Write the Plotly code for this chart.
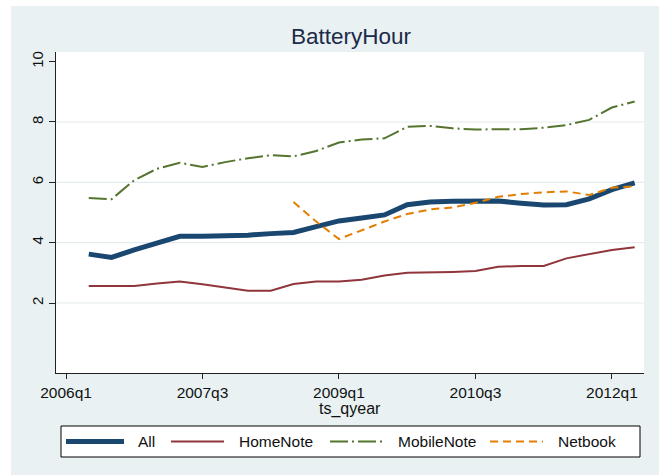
import plotly.graph_objects as go

# ---------------- data ----------------
QUARTERS = ["2006q2", "2006q3", "2006q4", "2007q1", "2007q2", "2007q3", "2007q4",
            "2008q1", "2008q2", "2008q3", "2008q4", "2009q1", "2009q2", "2009q3",
            "2009q4", "2010q1", "2010q2", "2010q3", "2010q4", "2011q1", "2011q2",
            "2011q3", "2011q4", "2012q1", "2012q2"]
ALL = [3.62, 3.51, 3.76, 4.00, 4.21, 4.21, 4.22, 4.25, 4.30, 4.34, 4.53, 4.72, 4.82,
       4.92, 5.26, 5.35, 5.37, 5.39, 5.38, 5.31, 5.25, 5.26, 5.45, 5.76, 5.98]
HOMENOTE = [2.56, 2.56, 2.56, 2.65, 2.71, 2.62, 2.52, 2.41, 2.41, 2.63, 2.71, 2.71, 2.77,
            2.91, 3.00, 3.01, 3.03, 3.06, 3.20, 3.23, 3.23, 3.48, 3.63, 3.76, 3.85]
MOBILENOTE = [5.48, 5.44, 6.07, 6.45, 6.65, 6.51, 6.67, 6.80, 6.90, 6.86, 7.04, 7.32, 7.42,
              7.46, 7.84, 7.87, 7.79, 7.75, 7.76, 7.76, 7.81, 7.90, 8.07, 8.48, 8.68]
NETBOOK = [None, None, None, None, None, None, None, None, None, 5.35, 4.70, 4.12, 4.40,
           4.70, 4.95, 5.10, 5.17, 5.32, 5.52, 5.61, 5.67, 5.70, 5.58, 5.82, 5.87]
SERIES_NAMES = ["All", "HomeNote", "MobileNote", "Netbook"]
X_TICK_LABELS = ["2006q1", "2007q3", "2009q1", "2010q3", "2012q1"]
Y_TICKS = [2, 4, 6, 8, 10]
Y_GRID = [2, 4, 6, 8]
TITLE = "BatteryHour"
X_TITLE = "ts_qyear"


def qindex(label):
    y, q = label.split("q")
    return (int(y) - 2006) * 4 + int(q) - 1


x = [qindex(q) for q in QUARTERS]
xtickvals = [qindex(q) for q in X_TICK_LABELS]

# ---------------- style ----------------
W, H = 668, 475
ML, MR, MT, MB = 56, 24, 52, 102
PW, PH = W - ML - MR, H - MT - MB
BG = "#E9F1F3"
GRID = "#E3EBEE"
FONT = "Arial, Liberation Sans, sans-serif"
STYLES = {
    "All": dict(color="#1A476F", width=5, dash="solid"),
    "HomeNote": dict(color="#90353B", width=2, dash="solid"),
    "MobileNote": dict(color="#55752F", width=2, dash="18px,4px,2px,4px"),
    "Netbook": dict(color="#E37E00", width=2, dash="8px,5px"),
}
DATA = {"All": ALL, "HomeNote": HOMENOTE, "MobileNote": MOBILENOTE, "Netbook": NETBOOK}


def px_x(p):
    return (p - ML) / PW


def px_y(p):
    return (H - MB - p) / PH


fig = go.Figure()
for name in SERIES_NAMES:
    fig.add_trace(go.Scatter(x=x, y=DATA[name], mode="lines", name=name,
                             line=STYLES[name], showlegend=False,
                             connectgaps=False, hoverinfo="skip"))

shapes = []
# outer bluish graph region
shapes.append(dict(type="rect", xref="paper", yref="paper", layer="below",
                   x0=px_x(11), x1=px_x(659), y0=px_y(476), y1=px_y(6),
                   fillcolor=BG, line=dict(width=0)))
# white plot region
shapes.append(dict(type="rect", xref="paper", yref="paper", layer="below",
                   x0=0, x1=1, y0=0, y1=1, fillcolor="white", line=dict(width=0)))
for g in Y_GRID:
    shapes.append(dict(type="line", xref="paper", yref="y", layer="below",
                       x0=0, x1=1, y0=g, y1=g, line=dict(color=GRID, width=1.2)))

# legend box
shapes.append(dict(type="rect", xref="paper", yref="paper", layer="above",
                   x0=px_x(61), x1=px_x(640), y0=px_y(457), y1=px_y(426),
                   fillcolor="white", line=dict(color="black", width=1)))
leg_line_x = [(66, 124), (171, 224), (330, 384), (490, 543)]
leg_text_x = [136, 237, 396, 556]
annotations = []
for name, (a, b), tx in zip(SERIES_NAMES, leg_line_x, leg_text_x):
    st = STYLES[name]
    shapes.append(dict(type="line", xref="paper", yref="paper", layer="above",
                       x0=px_x(a), x1=px_x(b), y0=px_y(441.5), y1=px_y(441.5),
                       line=dict(color=st["color"], width=st["width"], dash=st["dash"])))
    annotations.append(dict(xref="paper", yref="paper", x=px_x(tx), y=px_y(441.5),
                            xanchor="left", yanchor="middle", showarrow=False,
                            text=name, font=dict(family=FONT, size=15.5, color="#111")))

annotations.append(dict(xref="paper", yref="paper", x=px_x(350), y=px_y(409),
                        xanchor="center", yanchor="middle", showarrow=False,
                        text=X_TITLE, font=dict(family=FONT, size=16, color="#111")))

fig.update_layout(
    width=W, height=H,
    margin=dict(l=ML, r=MR, t=MT, b=MB, pad=0),
    paper_bgcolor="white", plot_bgcolor="rgba(0,0,0,0)",
    title=dict(text=TITLE, x=351 / W, xanchor="center",
               y=1 - 36 / H, yanchor="middle", yref="container",
               font=dict(family=FONT, size=22.5, color="#1C2A48")),
    shapes=shapes, annotations=annotations,
    xaxis=dict(range=[-0.44, 25.41], tickvals=xtickvals, ticktext=X_TICK_LABELS,
               ticks="outside", ticklen=5, tickwidth=1, tickcolor="#222",
               showline=True, linecolor="#222", linewidth=1.3, showgrid=False,
               zeroline=False, tickfont=dict(family=FONT, size=15.5, color="#111")),
    yaxis=dict(range=[-0.32, 10.32], tickvals=Y_TICKS, tickangle=-90,
               ticks="outside", ticklen=6, tickwidth=1, tickcolor="#222",
               showline=True, linecolor="#222", linewidth=1.3, showgrid=False,
               zeroline=False, tickfont=dict(family=FONT, size=15, color="#111")),
)

fig.write_html("out.html", config={"displayModeBar": False},
               post_script="document.body.style.margin='0px';document.body.style.padding='0px';")
